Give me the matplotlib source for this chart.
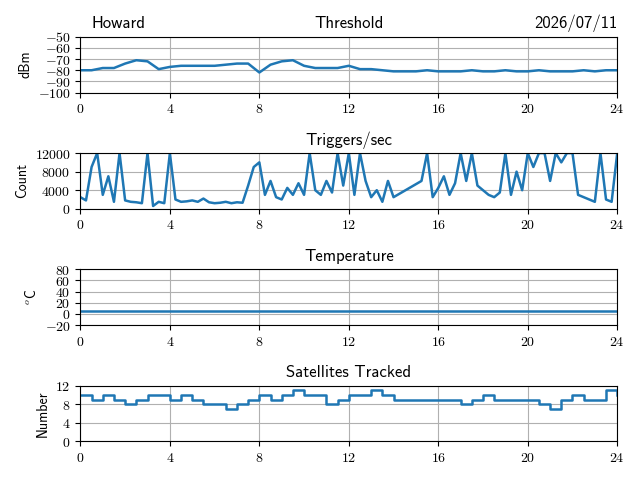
import numpy as np
import matplotlib
matplotlib.use("Agg")
import matplotlib.pyplot as plt
from matplotlib.ticker import FuncFormatter

plt.rcParams['font.family'] = 'cmss10'
plt.rcParams['mathtext.fontset'] = 'cm'
plt.rcParams['axes.unicode_minus'] = False
plt.rcParams['font.size'] = 10

# threshold, half-hourly
thr_t = np.arange(0, 24.01, 0.5)
thr = [-80, -80, -78, -78, -74, -71, -72, -79, -77, -76, -76, -76, -76, -75, -74, -74,
       -82, -75, -72, -71, -76, -78, -78, -78, -76, -79, -79, -80, -81, -81, -81, -80,
       -81, -81, -81, -80, -81, -81, -80, -81, -81, -80, -81, -81, -81, -80, -81, -80, -80]

# triggers/sec, 15 min
trig_t = np.arange(0, 24.01, 0.25)
trig = [2500, 1800, 9000, 12000, 3000, 7000, 1500, 12000, 1800, 1500, 1400, 1200,
        12000, 600, 1500, 1200, 12000, 2000, 1500, 1600, 1800, 1500, 2200, 1400,
        1200, 1300, 1500, 1200, 1400, 1300, 5000, 9000, 10000, 3000, 6000, 2500,
        2000, 4500, 3000, 5500, 3000, 12000, 4000, 3000, 6000, 3500, 12000, 5000,
        12000, 3000, 12000, 6000, 2500, 4000, 1500, 6000, 2500, None, None, None,
        None, 6000, 12000, 2500, 4500, 7000, 3000, 5500, 12000, 6000, 12000, 5000,
        4000, 3000, 2500, 3500, 12000, 3000, 8000, 4000, 12000, 9000, 12000, 12000,
        6000, 12000, 10000, 12000, 12000, 3000, 2500, 2000, 1500, 12000, 2000, 1500, 12000]

temp_t = np.arange(0, 24.01, 1)
temp = [5] * 25

sat_t = np.arange(0, 24.01, 0.5)
sat = [10, 9, 10, 9, 8, 9, 10, 10, 9, 10, 9, 8, 8, 7, 8, 9, 10, 9, 10, 11, 10, 10, 8, 9,
       10, 10, 11, 10, 9, 9, 9, 9, 9, 9, 8, 9, 10, 9, 9, 9, 9, 8, 7, 9, 10, 9, 9, 11, 10]

trig = np.array([np.nan if v is None else v for v in trig], dtype=float)
ok = ~np.isnan(trig)

fig, axs = plt.subplots(4, 1, figsize=(6.4, 4.8))
c = '#1f77b4'
lw = 1.8

ax = axs[0]
ax.plot(thr_t, thr, color=c, lw=lw)
ax.set_ylim(-100, -50)
ax.set_yticks([-100, -90, -80, -70, -60, -50])
ax.set_ylabel('dBm')
ax.set_title('Threshold')
ax.set_title('Howard', loc='left', x=0.02)
ax.set_title('2026/07/11', loc='right')

ax = axs[1]
ax.plot(trig_t[ok], trig[ok], color=c, lw=lw)
ax.set_ylim(0, 12000)
ax.set_yticks([0, 4000, 8000, 12000])
ax.set_ylabel('Count')
ax.set_title('Triggers/sec')

ax = axs[2]
ax.plot(temp_t, temp, color=c, lw=lw)
ax.set_ylim(-20, 80)
ax.set_yticks([-20, 0, 20, 40, 60, 80])
ax.set_ylabel(r'$^o$C')
ax.set_title('Temperature')

ax = axs[3]
ax.step(sat_t, sat, where='post', color=c, lw=lw)
ax.set_ylim(0, 12)
ax.set_yticks([0, 4, 8, 12])
ax.set_ylabel('Number')
ax.set_title('Satellites Tracked')

fmt = FuncFormatter(lambda v, p: r'$%d$' % v)
for ax in axs:
    ax.set_xlim(0, 24)
    ax.set_xticks(range(0, 25, 4))
    ax.grid(True)
    ax.xaxis.set_major_formatter(fmt)
    ax.yaxis.set_major_formatter(fmt)

fig.tight_layout()
fig.savefig('out.png', dpi=100)
